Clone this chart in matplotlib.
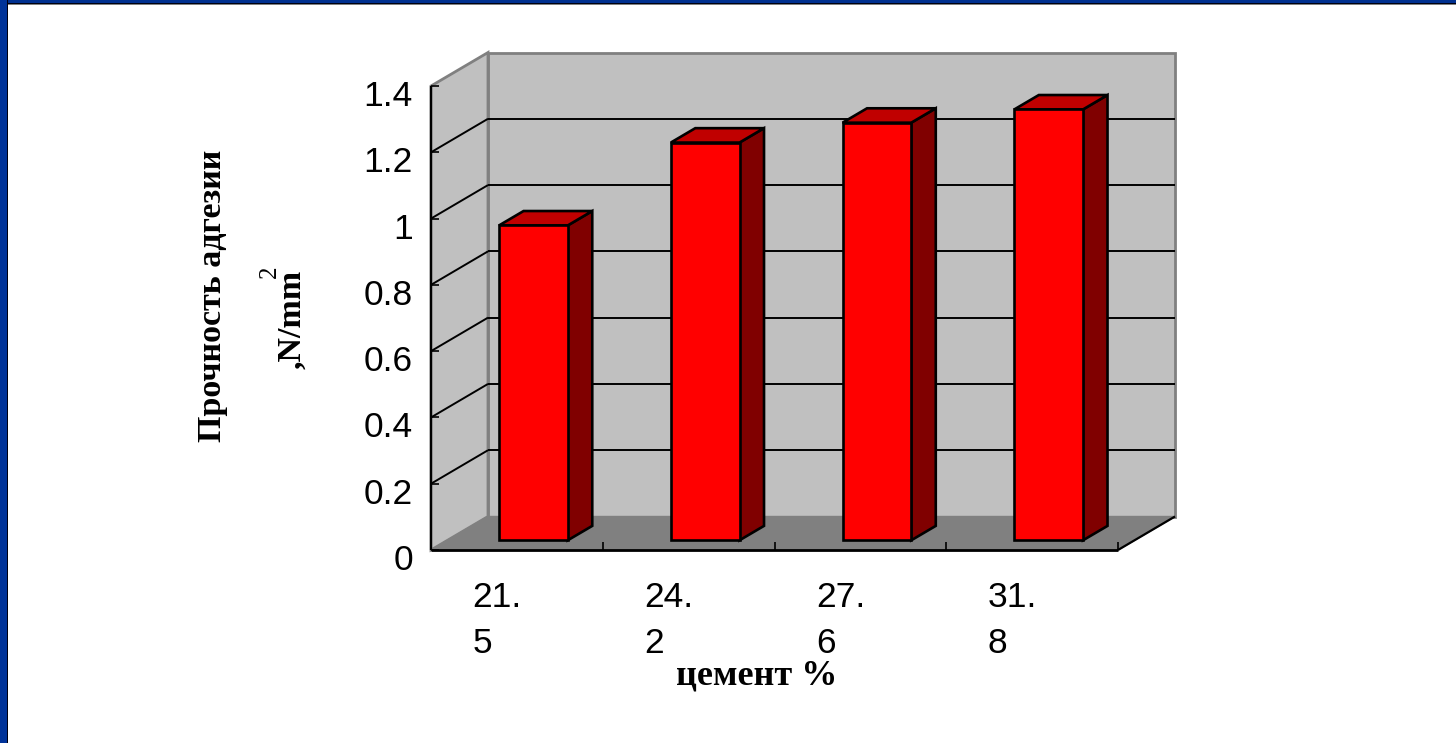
import matplotlib
matplotlib.use('Agg')
import matplotlib.pyplot as plt
import matplotlib.transforms as mtrans
from matplotlib.patches import Polygon, Rectangle

# data
cement_labels = ['21.\n5', '24.\n2', '27.\n6', '31.\n8']
adhesion = [0.95, 1.2, 1.26, 1.3]
y_ticks = [0, 0.2, 0.4, 0.6, 0.8, 1, 1.2, 1.4]
y_labels = ['0', '0.2', '0.4', '0.6', '0.8', '1', '1.2', '1.4']

W, H = 1456, 743
fig = plt.figure(figsize=(W / 100, H / 100), dpi=100, facecolor='white')

# axes is the front plane of the fake 3d box
left, right, top, bottom = 431, 1118, 86, 550
ax = fig.add_axes([left / W, 1 - bottom / H, (right - left) / W, (bottom - top) / H])
ax.set_xlim(0, 4)
ax.set_ylim(0, 1.4)
ax.patch.set_visible(False)
for s in ax.spines.values():
    s.set_visible(False)

# depth of the box, in data units
dx = 57 / (right - left) * 4
dy = 33.5 / (bottom - top) * 1.4


def pr(x, y, d):
    return (x + d * dx, y + d * dy)


def poly(pts, fc, ec='black', lw=1.5, z=2):
    ax.add_patch(Polygon(pts, closed=True, fc=fc, ec=ec, lw=lw, zorder=z, clip_on=False, joinstyle='miter'))


def line(a, b, c='black', lw=1.5, z=3):
    ax.plot([a[0], b[0]], [a[1], b[1]], color=c, lw=lw, zorder=z, clip_on=False, solid_capstyle='butt')


# walls and floor
wall_c = '#c0c0c0'
grey = '#808080'
poly([pr(0, 0, 1), pr(4, 0, 1), pr(4, 1.4, 1), pr(0, 1.4, 1)], wall_c, ec=grey, lw=2, z=1)
poly([pr(0, 0, 0), pr(0, 0, 1), pr(0, 1.4, 1), pr(0, 1.4, 0)], wall_c, ec=grey, lw=2, z=1)
poly([pr(0, 0, 0), pr(4, 0, 0), pr(4, 0, 1), pr(0, 0, 1)], grey, ec=grey, lw=1, z=1.5)

# gridlines on the two walls
for v in y_ticks[1:-1]:
    line(pr(0, v, 0), pr(0, v, 1), lw=1.4, z=2)
    line(pr(0, v, 1), pr(4, v, 1), lw=1.4, z=2)

# axis lines
line(pr(0, 0, 0), pr(0, 1.4, 0), lw=1.6, z=3)
line(pr(0, 0, 0), pr(4, 0, 0), lw=2, z=3)
line(pr(4, 0, 0), pr(4, 0, 1), lw=1.6, z=3)

# bars
bar_w = 0.4
d0, d1 = 0.29, 0.72
for i, v in enumerate(adhesion):
    x0 = i + 0.5 - bar_w / 2
    x1 = i + 0.5 + bar_w / 2
    poly([pr(x1, 0, d0), pr(x1, 0, d1), pr(x1, v, d1), pr(x1, v, d0)], '#800000', lw=1.9, z=4)
    poly([pr(x0, v, d0), pr(x1, v, d0), pr(x1, v, d1), pr(x0, v, d1)], '#c00000', lw=1.9, z=4)
    ax.add_patch(Rectangle(pr(x0, 0, d0), bar_w, v, fc='#ff0000', ec='black', lw=1.9, zorder=5,
                           clip_on=False, joinstyle='miter'))

# ticks
ax.set_yticks(y_ticks)
ax.set_yticklabels(y_labels)
ax.set_xticks([0, 1, 2, 3, 4])
ax.set_xticklabels([])
ax.set_xticks([0.5, 1.5, 2.5, 3.5], minor=True)
ax.set_xticklabels(cement_labels, minor=True)
ax.tick_params(axis='y', direction='in', length=6, width=1.2, pad=13, labelsize=25.5)
ax.tick_params(axis='x', which='major', direction='in', length=5.5, width=1.2, top=False)
ax.tick_params(axis='x', which='minor', length=0, pad=22, labelsize=25.5)
for lab in ax.get_yticklabels():
    lab.set_fontfamily('Liberation Sans')
    lab.set_transform(lab.get_transform() + mtrans.ScaledTranslation(0, -7 / 100, fig.dpi_scale_trans))
for lab in ax.get_xticklabels(minor=True):
    lab.set_fontfamily('Liberation Sans')
    lab.set_multialignment('left')
    lab.set_linespacing(1.5)
    lab.set_transform(lab.get_transform() + mtrans.ScaledTranslation(-20 / 100, 0, fig.dpi_scale_trans))

# axis titles
serif = 'Liberation Serif'
fig.text(757 / W, 1 - 676 / H, 'цемент %', family=serif, weight='bold', fontsize=26, ha='center', va='center')
fig.text(212 / W, 1 - 296 / H, 'Прочность адгезии', family=serif, weight='bold', fontsize=24.5,
         rotation=90, ha='center', va='center')
fig.text(292 / W, 1 - 319 / H, ',N/mm', family=serif, weight='bold', fontsize=24.5,
         rotation=90, ha='center', va='center')
fig.text(270 / W, 1 - 272 / H, '2', family=serif, fontsize=18, rotation=90, ha='center', va='center')

# slide frame
fig.add_artist(Rectangle((0, 1 - 5 / H), 1, 5 / H, transform=fig.transFigure, fc='#808080', ec='none'))
fig.add_artist(Rectangle((0, 1 - 4 / H), 1, 4 / H, transform=fig.transFigure, fc='#000010', ec='none'))
fig.add_artist(Rectangle((0, 1 - 3 / H), 1, 3 / H, transform=fig.transFigure, fc='#003090', ec='none'))
fig.add_artist(Rectangle((0, 0), 8.3 / W, 1, transform=fig.transFigure, fc='#000010', ec='none'))
fig.add_artist(Rectangle((0, 0), 6.7 / W, 1, transform=fig.transFigure, fc='#003399', ec='none'))

fig.savefig('out.png', dpi=100)
